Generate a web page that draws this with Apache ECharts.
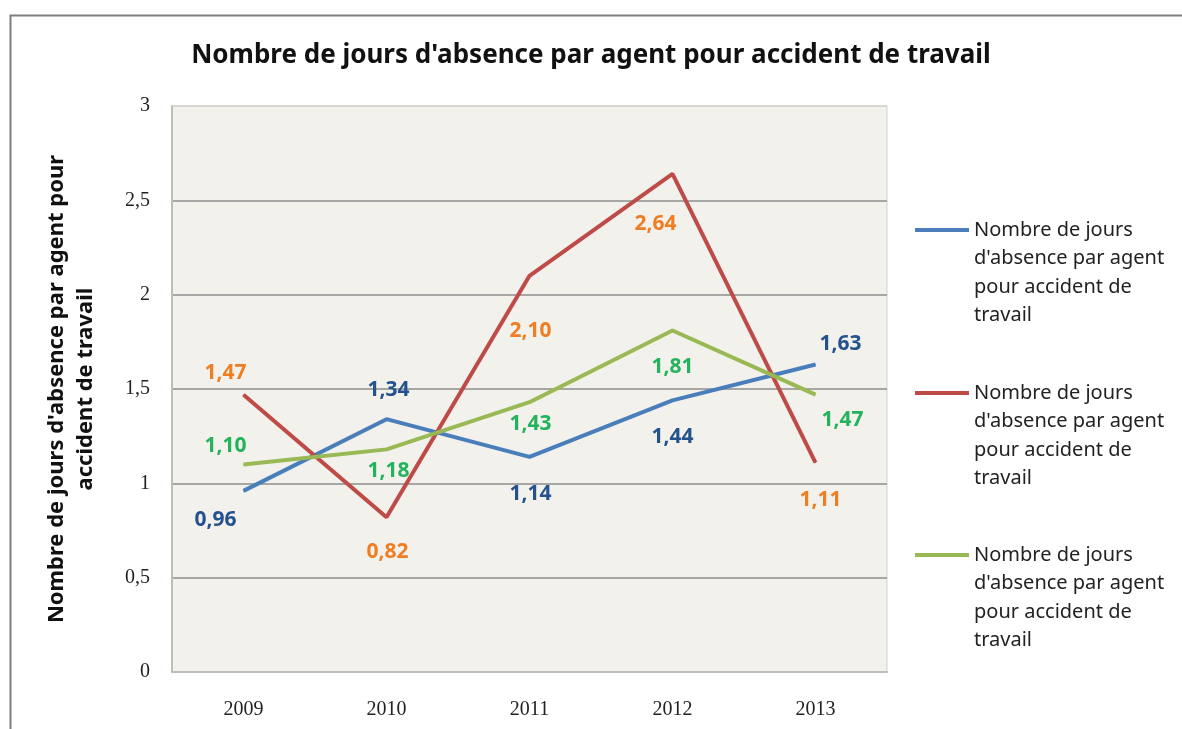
<!DOCTYPE html>
<html>
<head>
<meta charset="utf-8">
<script src="https://cdn.jsdelivr.net/npm/echarts@6/dist/echarts.min.js"></script>
<style>
  html, body { margin: 0; padding: 0; background: #fff; }
  #main { width: 1182px; height: 729px; }
</style>
</head>
<body>
<div id="main"></div>
<script>
  // données
  const years = ["2009", "2010", "2011", "2012", "2013"];
  const serieName = "Nombre de jours d'absence par agent pour accident de travail";
  const blueValues = [0.96, 1.34, 1.14, 1.44, 1.63];
  const redValues = [1.47, 0.82, 2.10, 2.64, 1.11];
  const greenValues = [1.10, 1.18, 1.43, 1.81, 1.47];

  // décalage des étiquettes [dx, dy] par point
  const blueLabelShift = [[-28, 29], [2, -29], [1, 37], [0, 37], [25, -20]];
  const redLabelShift = [[-18, -22], [1, 35], [1, 55], [-17, 50], [5, 37]];
  const greenLabelShift = [[-18, -18], [2, 22], [1, 22], [0, 37], [27, 25]];

  const fmt = (v) => v.toFixed(2).replace(".", ",");

  // construit les points avec leur étiquette
  const buildData = (values, shifts) =>
    values.map((v, i) => ({
      value: v,
      label: { position: "inside", offset: shifts[i] }
    }));

  const makeSerie = (name, values, shifts, lineColor, labelColor) => ({
    name: name,
    type: "line",
    data: buildData(values, shifts),
    symbol: "circle",
    symbolSize: 1,
    showSymbol: true,
    color: lineColor,
    lineStyle: { width: 4, color: lineColor },
    itemStyle: { color: lineColor },
    label: {
      show: true,
      formatter: (p) => fmt(p.value),
      color: labelColor,
      fontFamily: "Noto Sans",
      fontWeight: "bold",
      fontSize: 21
    },
    emphasis: { disabled: true },
    animation: false
  });

  // noms distincts (espaces finaux) pour que chaque légende garde sa couleur
  const names = [serieName, serieName + " ", serieName + "  "];
  const legendLineH = 28.5;
  const legendIconY = [230, 393, 555];

  // lignes vides en tête : l'icône tombe sur la première ligne du texte
  const legends = names.map((n, i) => ({
    data: [n],
    orient: "vertical",
    left: 915,
    top: legendIconY[i] - 3.5 * legendLineH,
    padding: 0,
    icon: "rect",
    itemWidth: 54,
    itemHeight: 4,
    itemGap: 0,
    selectedMode: false,
    formatter: () => "\n\n\nNombre de jours\nd'absence par agent\npour accident de\ntravail",
    textStyle: {
      fontFamily: "Noto Sans",
      fontSize: 20,
      lineHeight: legendLineH,
      color: "#222"
    }
  }));

  const chart = echarts.init(document.getElementById("main"));
  chart.setOption({
    backgroundColor: "#fff",
    title: {
      text: serieName,
      left: "center",
      top: 38,
      textStyle: {
        fontFamily: "Noto Sans",
        fontWeight: "bold",
        fontSize: 26,
        color: "#111"
      }
    },
    graphic: [
      {
        type: "rect",
        left: 8,
        top: 13,
        shape: { width: 1300, height: 900 },
        style: { fill: "none", stroke: "#7f7f7f", lineWidth: 2 },
        silent: true
      }
    ],
    legend: legends,
    grid: {
      left: 172,
      right: 295,
      top: 106,
      bottom: 57,
      show: true,
      backgroundColor: "#f2f1ec",
      borderColor: "#d2d2ce",
      borderWidth: 1
    },
    xAxis: {
      type: "category",
      data: years,
      boundaryGap: true,
      axisLine: { lineStyle: { color: "#bdbdbd", width: 2 } },
      axisTick: { show: false },
      axisLabel: {
        margin: 28,
        fontFamily: "Liberation Serif",
        fontSize: 20,
        color: "#222"
      }
    },
    yAxis: {
      type: "value",
      min: 0,
      max: 3,
      interval: 0.5,
      name: "Nombre de jours d'absence par agent pour\naccident de travail",
      nameLocation: "middle",
      nameRotate: 90,
      nameGap: 72,
      nameTextStyle: {
        fontFamily: "Noto Sans",
        fontWeight: "bold",
        fontSize: 22,
        lineHeight: 29,
        color: "#111"
      },
      axisLine: { show: true, lineStyle: { color: "#bdbdbd", width: 2 } },
      axisTick: { show: false },
      axisLabel: {
        margin: 22,
        formatter: (v) => String(v).replace(".", ","),
        fontFamily: "Liberation Serif",
        fontSize: 20,
        color: "#222"
      },
      splitLine: {
        show: true,
        lineStyle: {
          color: ["#bdbdbd", "#8c8c8c", "#8c8c8c", "#8c8c8c", "#8c8c8c", "#8c8c8c", "#d2d2ce"],
          width: 1.5
        }
      }
    },
    series: [
      makeSerie(names[0], blueValues, blueLabelShift, "#4a7ebb", "#24528f"),
      makeSerie(names[1], redValues, redLabelShift, "#be4b48", "#ef7d22"),
      makeSerie(names[2], greenValues, greenLabelShift, "#98b954", "#22b35c")
    ]
  });
</script>
</body>
</html>
